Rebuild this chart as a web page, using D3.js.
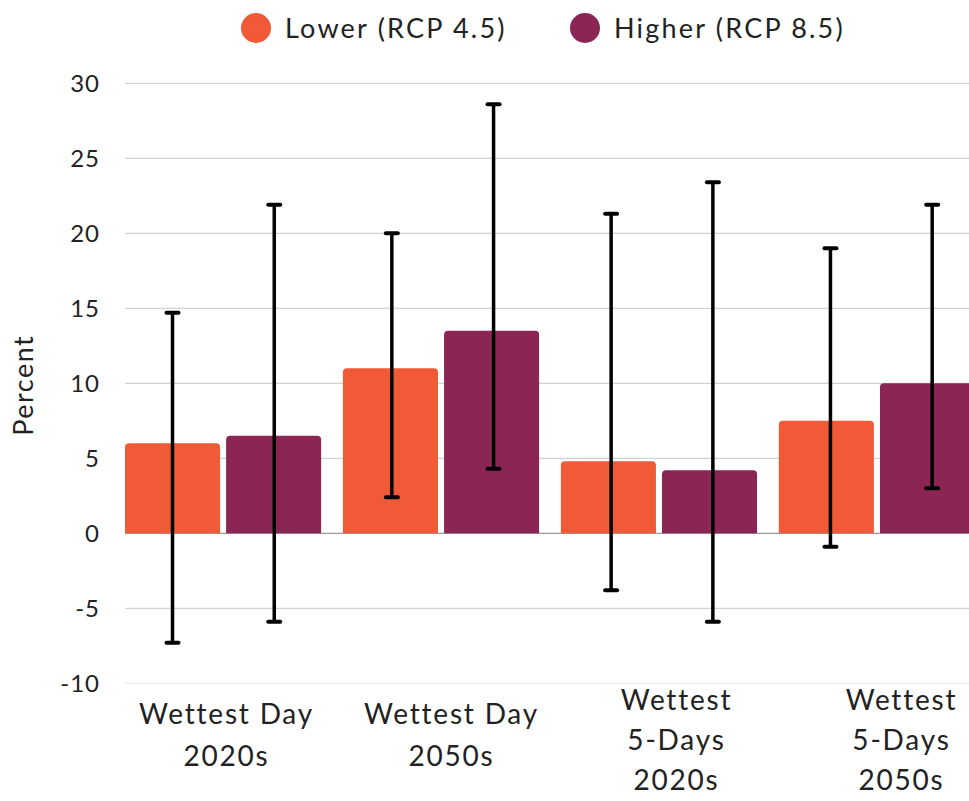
<!DOCTYPE html>
<html>
<head>
<meta charset="utf-8">
<script src="https://cdn.jsdelivr.net/npm/d3@7"></script>
<style>
  html, body { margin: 0; padding: 0; background: #fff; }
  svg { display: block; font-family: Lato, "Open Sans", sans-serif; }
</style>
</head>
<body>
<svg id="chart" width="969" height="801"></svg>
<script>
// ---- data ----
const categories = ["Wettest Day 2020s", "Wettest Day 2050s", "Wettest 5-Days 2020s", "Wettest 5-Days 2050s"];
const categoryLines = [["Wettest Day", "2020s"], ["Wettest Day", "2050s"], ["Wettest", "5-Days", "2020s"], ["Wettest", "5-Days", "2050s"]];
const seriesNames = ["Lower (RCP 4.5)", "Higher (RCP 8.5)"];
const seriesColors = ["#F15A36", "#8B2654"];
const lowerValues = [6.0, 11.0, 4.8, 7.5];
const higherValues = [6.5, 13.5, 4.2, 10.0];
const lowerErrHigh = [14.7, 20.0, 21.3, 19.0];
const lowerErrLow = [-7.3, 2.4, -3.8, -0.9];
const higherErrHigh = [21.9, 28.6, 23.4, 21.9];
const higherErrLow = [-5.9, 4.3, -5.9, 3.0];
const yTicks = [-10, -5, 0, 5, 10, 15, 20, 25, 30];

const seriesValues = [lowerValues, higherValues];
const seriesErrHigh = [lowerErrHigh, higherErrHigh];
const seriesErrLow = [lowerErrLow, higherErrLow];

const rows = [];
categories.forEach((c, i) => {
  seriesNames.forEach((s, j) => {
    rows.push({cat: c, series: s, si: j, value: seriesValues[j][i], hi: seriesErrHigh[j][i], lo: seriesErrLow[j][i]});
  });
});

const svg = d3.select("#chart");

const y = d3.scaleLinear().domain([-10, 30]).range([683.3, 83.3]);
const x0 = d3.scaleBand().domain(categories).range([125, 975]).paddingInner(0.1).paddingOuter(0);
const x1 = d3.scaleBand().domain(seriesNames).range([0, x0.bandwidth()]).paddingInner(0.06);
const errX = d3.scaleLinear().domain([125, 975]).range([124.7, 980]);
const labelX = d3.scaleBand().domain(categories).range([114, 1014]);

// gridlines
svg.append("g").selectAll("line").data(yTicks).join("line")
  .attr("x1", 125).attr("x2", 969)
  .attr("y1", d => y(d)).attr("y2", d => y(d))
  .attr("stroke", d => d === 0 ? "#9a9a9a" : (d === -10 ? "#ececec" : "#d2d2d2"))
  .attr("stroke-width", 1.2);

// y axis labels
const yAxis = d3.axisLeft(y).tickValues(yTicks).tickSize(0).tickPadding(0).tickFormat(d => String(d));
const gy = svg.append("g").attr("transform", "translate(100,0)").call(yAxis);
gy.select(".domain").remove();
gy.selectAll("text").attr("font-size", 24).attr("fill", "#222").attr("font-family", "Lato, sans-serif")
  .attr("letter-spacing", 1).attr("dy", "0.36em");

// y title
svg.append("text")
  .attr("transform", `translate(33,${y(10) + 2}) rotate(-90)`)
  .attr("text-anchor", "middle")
  .attr("font-size", 27).attr("fill", "#222").attr("letter-spacing", 1.5)
  .text("Percent");

// bars with rounded tops
const r = 4;
function barPath(d) {
  const bx = x0(d.cat) + x1(d.series);
  const w = x1.bandwidth();
  const top = y(d.value), base = y(0);
  return `M${bx},${base}V${top + r}Q${bx},${top} ${bx + r},${top}H${bx + w - r}Q${bx + w},${top} ${bx + w},${top + r}V${base}Z`;
}
svg.append("g").selectAll("path").data(rows).join("path")
  .attr("d", barPath)
  .attr("fill", d => seriesColors[d.si]);

// error bars
const eg = svg.append("g").selectAll("g").data(rows).join("g");
const cx = d => errX(x0(d.cat) + x1(d.series) + x1.bandwidth() / 2);
eg.append("line")
  .attr("x1", cx).attr("x2", cx)
  .attr("y1", d => y(d.hi)).attr("y2", d => y(d.lo))
  .attr("stroke", "#000").attr("stroke-width", 3.5);
eg.append("line")
  .attr("x1", d => cx(d) - 6).attr("x2", d => cx(d) + 6)
  .attr("y1", d => y(d.hi)).attr("y2", d => y(d.hi))
  .attr("stroke", "#000").attr("stroke-width", 4).attr("stroke-linecap", "round");
eg.append("line")
  .attr("x1", d => cx(d) - 6).attr("x2", d => cx(d) + 6)
  .attr("y1", d => y(d.lo)).attr("y2", d => y(d.lo))
  .attr("stroke", "#000").attr("stroke-width", 4).attr("stroke-linecap", "round");

// x labels
const xl = svg.append("g").selectAll("text").data(categories).join("text")
  .attr("x", d => labelX(d) + labelX.bandwidth() / 2)
  .attr("y", (d, i) => categoryLines[i].length === 3 ? 710 : 724)
  .attr("text-anchor", "middle")
  .attr("font-size", 28).attr("fill", "#222").attr("letter-spacing", 1.8);
xl.each(function(d, i) {
  const t = d3.select(this);
  const cxl = labelX(d) + labelX.bandwidth() / 2;
  const n = categoryLines[i].length;
  categoryLines[i].forEach((line, k) => {
    t.append("tspan").attr("x", cxl).attr("dy", k === 0 ? 0 : (n === 3 ? 40 : 42)).text(line);
  });
});

// legend
const legendX = [256, 585];
const lg = svg.append("g").selectAll("g").data(seriesNames).join("g")
  .attr("transform", (d, i) => `translate(${legendX[i]},28)`);
lg.append("circle").attr("r", 15).attr("fill", (d, i) => seriesColors[i]);
lg.append("text").attr("x", 29).attr("y", 10).attr("font-size", 27).attr("fill", "#222")
  .attr("letter-spacing", 2.2).text(d => d);
</script>
</body>
</html>
